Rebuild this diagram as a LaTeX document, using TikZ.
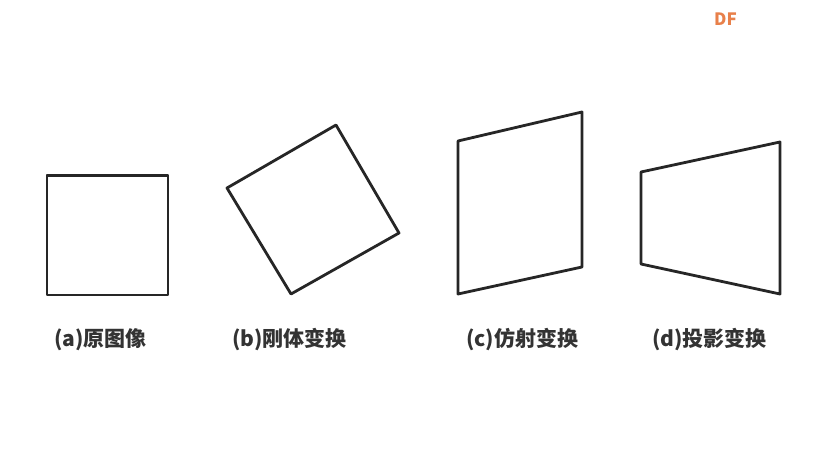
\documentclass[tikz,border=0pt]{standalone}
\usepackage{fontspec}
\newfontfamily\cjk{Noto Sans CJK SC}
\definecolor{edge}{HTML}{262626}
\definecolor{lab}{HTML}{333333}
\definecolor{logo}{HTML}{E8804A}
\begin{document}
\begin{tikzpicture}[x=1pt,y=-1pt,
  shapeline/.style={draw=edge,line width=2.8pt,line join=round},
  caption/.style={font=\cjk\bfseries\fontsize{21}{24}\selectfont,text=lab,anchor=west,inner sep=0pt},
  logotext/.style={font=\cjk\bfseries\fontsize{17}{20}\selectfont,text=logo,anchor=west,inner sep=0pt}]
\useasboundingbox[fill=white] (0,0) rectangle (822,460);
% (a) original
\coordinate (a1) at (47,175);
\coordinate (a2) at (168,175);
\coordinate (a3) at (168,295);
\coordinate (a4) at (47,295);
\draw[shapeline] (a1) -- (a2) -- (a3) -- (a4) -- cycle;
\draw[draw=edge,line width=1pt] ([yshift=-1.4pt]a1) -- ([yshift=-1.4pt]a2);
% (b) rigid
\coordinate (b1) at (336,125);
\coordinate (b2) at (399,233);
\coordinate (b3) at (291,294);
\coordinate (b4) at (227,188);
\draw[shapeline] (b1) -- (b2) -- (b3) -- (b4) -- cycle;
% (c) affine
\coordinate (c1) at (458,141);
\coordinate (c2) at (582,112);
\coordinate (c3) at (582,267);
\coordinate (c4) at (458,294);
\draw[shapeline] (c1) -- (c2) -- (c3) -- (c4) -- cycle;
% (d) projective
\coordinate (d1) at (641,172);
\coordinate (d2) at (780,142);
\coordinate (d3) at (780,294);
\coordinate (d4) at (641,264);
\draw[shapeline] (d1) -- (d2) -- (d3) -- (d4) -- cycle;
% captions
\node[caption] (la) at (54,340) {(a)原图像};
\node[caption] (lb) at (232,340) {(b)刚体变换};
\node[caption] (lc) at (466,340) {(c)仿射变换};
\node[caption] (ld) at (652,340) {(d)投影变换};
% logo
\node[logotext] (logo) at (714,19) {DF};
\end{tikzpicture}
\end{document}
